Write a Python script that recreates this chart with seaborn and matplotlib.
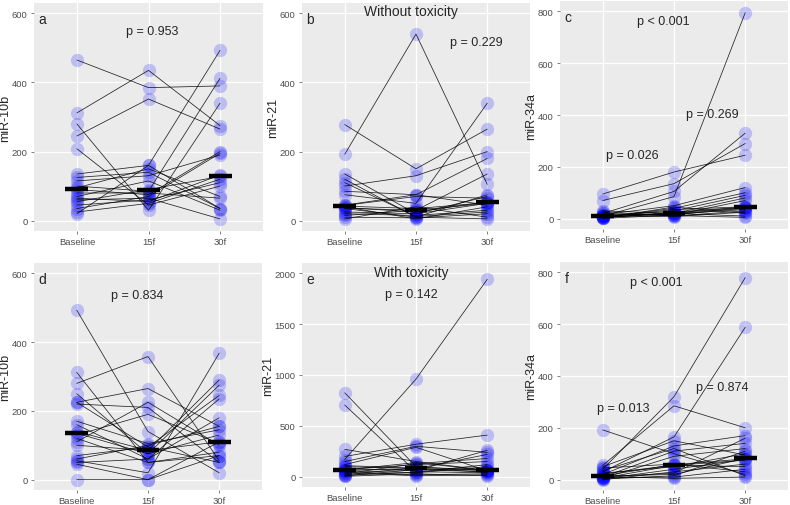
import numpy as np
import pandas as pd
import seaborn as sns
import matplotlib.pyplot as plt

# timepoints
times = ['Baseline', '15f', '30f']

# panel a: miR-10b, without toxicity (baseline, 15f, 30f per patient)
a_base = [465, 312, 245, 280, 208, 135, 125, 115, 100, 95, 90, 80, 70, 65, 60, 55, 45, 35, 20, 25]
a_15f = [385, 435, 352, 30, 45, 160, 140, 130, 85, 150, 75, 80, 115, 55, 65, 90, 60, 70, 160, 50]
a_30f = [390, 275, 265, 340, 100, 493, 35, 190, 412, 70, 200, 65, 30, 132, 5, 128, 110, 195, 35, 120]

# panel b: miR-21, without toxicity
b_base = [278, 192, 135, 120, 100, 85, 75, 36, 44, 40, 38, 20, 10, 5, 42, 35, 15, 45, 25, 110]
b_15f = [150, 540, 20, 10, 130, 75, 50, 30, 70, 5, 25, 15, 8, 40, 35, 10, 30, 75, 20, 12]
b_30f = [265, 105, 50, 75, 200, 180, 340, 135, 65, 40, 55, 30, 20, 10, 52, 5, 50, 45, 70, 25]

# panel c: miR-34a, without toxicity
c_base = [95, 70, 20, 10, 15, 5, 8, 12, 3, 18, 25, 6, 2, 30, 9, 4, 14, 7, 11, 1]
c_15f = [180, 135, 105, 85, 50, 40, 30, 20, 25, 15, 10, 35, 45, 20, 12, 22, 18, 18, 8, 14]
c_30f = [245, 290, 330, 795, 120, 100, 90, 80, 45, 40, 30, 46, 20, 10, 5, 44, 35, 42, 25, 70]

# panel d: miR-10b, with toxicity
d_base = [493, 312, 280, 250, 225, 220, 170, 160, 130, 110, 100, 70, 55, 50, 45, 0, 140, 60, 120, 225, 135]
d_15f = [140, 50, 358, 75, 265, 210, 105, 60, 190, 225, 85, 95, 20, 60, 0, 0, 85, 100, 50, 95, 75]
d_30f = [20, 70, 55, 275, 155, 50, 145, 180, 105, 100, 290, 245, 368, 235, 110, 70, 110, 155, 80, 50, 130]

# panel e: miR-21, with toxicity
e_base = [170, 825, 705, 270, 200, 150, 120, 100, 80, 70, 60, 50, 40, 30, 20, 10, 5, 68, 65, 110, 15]
e_15f = [960, 100, 50, 150, 320, 300, 290, 80, 60, 120, 40, 20, 10, 130, 90, 70, 30, 140, 75, 85, 45]
e_30f = [1940, 60, 40, 64, 410, 240, 60, 220, 260, 150, 100, 30, 20, 180, 70, 50, 10, 62, 65, 45, 120]

# panel f: miR-34a, with toxicity
f_base = [40, 30, 55, 192, 50, 20, 10, 5, 15, 25, 0, 8, 12, 45, 3, 14, 6, 35, 2, 22, 11]
f_15f = [320, 165, 285, 100, 150, 130, 110, 90, 58, 50, 30, 10, 5, 60, 40, 20, 55, 120, 15, 56, 25]
f_30f = [780, 588, 200, 20, 95, 170, 140, 120, 80, 100, 60, 40, 10, 30, 78, 82, 75, 15, 110, 50, 160]

sns.set_theme(style='darkgrid', rc={
    'axes.facecolor': '#EBEBEB',
    'grid.color': 'white',
    'axes.edgecolor': '#EBEBEB',
    'xtick.color': '#333333',
    'ytick.color': '#333333',
})
plt.rcParams['font.family'] = ['Liberation Sans', 'DejaVu Sans']

fig = plt.figure(figsize=(7.9, 5.06), dpi=100)

# layout in pixels: left, top, right, bottom
boxes = {
    'a': (34, 4, 263, 232), 'b': (302, 4, 530, 232), 'c': (560, 2, 788, 230),
    'd': (34, 264, 262, 491), 'e': (302, 264, 530, 488), 'f': (560, 263, 788, 491),
}

panels = [
    ('a', 'miR-10b', a_base, a_15f, a_30f, (-30, 630), [0, 200, 400, 600]),
    ('b', 'miR-21', b_base, b_15f, b_30f, (-30, 630), [0, 200, 400, 600]),
    ('c', 'miR-34a', c_base, c_15f, c_30f, (-40, 840), [0, 200, 400, 600, 800]),
    ('d', 'miR-10b', d_base, d_15f, d_30f, (-30, 630), [0, 200, 400, 600]),
    ('e', 'miR-21', e_base, e_15f, e_30f, (-100, 2100), [0, 500, 1000, 1500, 2000]),
    ('f', 'miR-34a', f_base, f_15f, f_30f, (-40, 840), [0, 200, 400, 600, 800]),
]

# annotation text: (x, y, text) in data units
notes = {
    'a': [(2.05, 548, 'p = 0.953')],
    'b': [(2.84, 517, 'p = 0.229')],
    'c': [(1.85, 763, 'p < 0.001'), (2.54, 405, 'p = 0.269'), (1.41, 247, 'p = 0.026')],
    'd': [(1.85, 537, 'p = 0.834')],
    'e': [(1.93, 1793, 'p = 0.142')],
    'f': [(1.75, 761, 'p < 0.001'), (2.68, 358, 'p = 0.874'), (1.29, 277, 'p = 0.013')],
}
titles = {'b': ('Without toxicity', 608), 'e': ('With toxicity', 2011)}

for key, ylab, base, f15, f30, ylim, yt in panels:
    l, t, r, b = boxes[key]
    ax = fig.add_axes([l / 790, 1 - b / 506, (r - l) / 790, (b - t) / 506])

    n = len(base)
    df = pd.DataFrame({
        'id': np.tile(np.arange(n), 3),
        'time': np.repeat(np.arange(3), n),
        'value': np.concatenate([base, f15, f30]),
    })

    sns.scatterplot(data=df, x='time', y='value', color='blue', alpha=0.2,
                    s=92, linewidth=0, ax=ax, zorder=2)
    sns.lineplot(data=df, x='time', y='value', units='id', estimator=None,
                 color='black', lw=0.55, alpha=0.85, ax=ax, zorder=3)

    meds = df.groupby('time')['value'].median()
    ax.hlines(meds.values, meds.index - 0.16, meds.index + 0.16,
              color='black', lw=3.2, zorder=4)

    ax.set_xlim(-0.6, 2.6)
    ax.set_ylim(*ylim)
    ax.set_xticks([0, 1, 2])
    ax.set_xticklabels(times)
    ax.set_yticks(yt)
    ax.set_xlabel('')
    ax.set_ylabel(ylab, fontsize=9, labelpad=0.5)
    ax.tick_params(labelsize=6.8, length=2.5, width=0.5, pad=2, colors='#4D4D4D')
    ax.tick_params(axis='both', which='both', bottom=True, left=True)
    ax.grid(True, color='white', lw=0.9)
    for sp in ax.spines.values():
        sp.set_visible(False)

    # panel letter
    ax.text(0.02, 0.93, key, transform=ax.transAxes, fontsize=10, va='center', ha='left')
    for x, y, s in notes[key]:
        ax.text(x - 1, y, s, fontsize=9, ha='center', va='center')
    if key in titles:
        ax.text(0.93, titles[key][1], titles[key][0], fontsize=10, ha='center', va='center')

fig.savefig('out.png', dpi=100)
